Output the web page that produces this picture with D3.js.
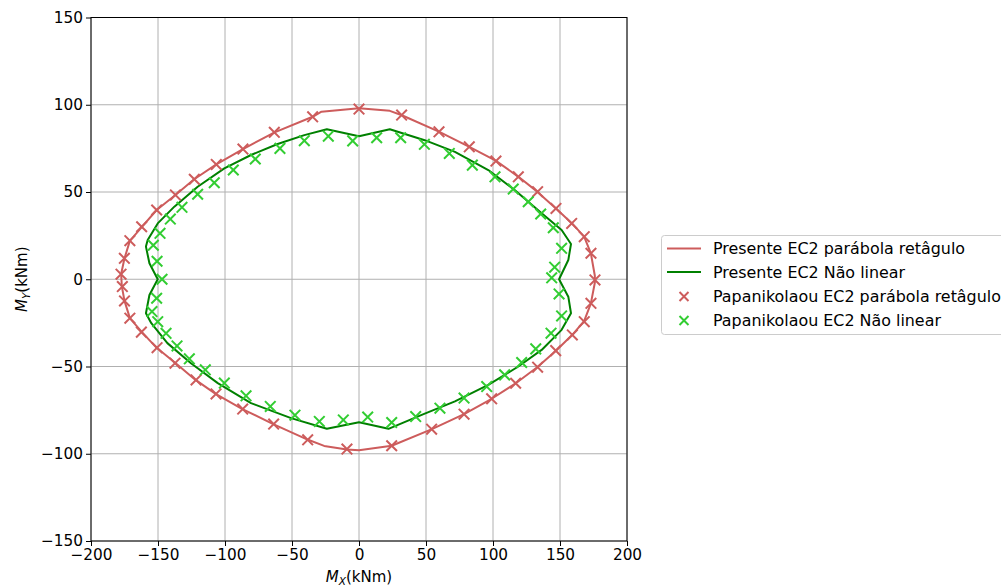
<!DOCTYPE html>
<html>
<head>
<meta charset="utf-8">
<script src="https://cdn.jsdelivr.net/npm/d3@7"></script>
<style>
  body { margin: 0; background: #fff; }
  svg { font-family: "DejaVu Sans", sans-serif; }
</style>
</head>
<body>
<svg width="1001" height="587"></svg>
<script>
// curva de interacao Mx-My
var redLine = [[0,98],[23,96.5],[32,94],[60,84.5],[82,76],[102,68],[119,58.7],[133,50.2],[147,40.6],[159,32],
  [168,24.4],[173,15],[176,2],[176,-2],[173,-14],[168,-24],[159,-32],[147,-41],[133,-50.4],[117,-59.6],
  [99,-68.5],[78.4,-77.3],[54,-86],[24.4,-95.4],[0,-98],[-9,-97.6],[-26,-95.5],[-38,-92],[-64,-83],
  [-87,-74.4],[-107,-65.7],[-122,-57.7],[-137,-48],[-151,-39.3],[-162,-30.3],[-171,-22.3],[-175,-12.4],
  [-177,-4],[-177.5,3],[-175,12],[-171,22],[-162,30],[-151,39.7],[-137,48.3],[-123,57.3],[-106.5,65.8],
  [-86.6,74.6],[-63,84.2],[-34.6,93.1],[-28,96],[0,98]];

var greenLine = [[0,82],[23,86],[49,79.7],[71.6,73],[96.5,62.6],[116.4,51],[136.3,37.8],[151.2,28.2],
  [158.2,20.2],[156.2,11],[149.3,0],[156.2,-10],[158.2,-19.5],[151.2,-29],[136.3,-40.5],[118.9,-50],
  [96.5,-60.5],[71.6,-70],[46.8,-77.7],[22,-85.7],[0,-82],[-24,-85.7],[-50.7,-79.6],[-80.6,-71],
  [-105.4,-59.5],[-125.4,-48.1],[-143,-36.6],[-155,-25.2],[-159,-19.5],[-156.4,-9],[-150.2,0],
  [-156.4,9.2],[-159,18.7],[-157.7,22.5],[-150.2,32],[-137.8,41.6],[-120.4,53],[-100.5,63.5],
  [-80.6,71.2],[-60.7,77.5],[-40.8,82.6],[-24,86],[0,82]];

var redMarks = [[0,97.5],[31.8,94.1],[59.7,84.5],[82.3,75.9],[102.2,67.7],[118.9,58.7],[133.3,50.2],
  [147,40.6],[158.7,32],[168.1,24.4],[173.1,14.9],[176.1,-0.4],[173.1,-13.8],[168.1,-24.3],[159.2,-31.9],
  [146.8,-40.9],[133.3,-50.4],[116.9,-59.6],[99,-68.5],[78.4,-77.3],[54.2,-85.9],[24.4,-95.4],
  [-9,-97.3],[-38.3,-92],[-63.7,-83],[-86.8,-74.4],[-106.7,-65.7],[-121.6,-57.7],[-137.3,-48.1],
  [-150.7,-39.2],[-162.4,-30.3],[-171,-22.3],[-175,-12.4],[-176.6,-4.2],[-177.6,2.9],[-175.1,12],
  [-171,22.1],[-162.2,30.1],[-151,39.7],[-137,48.3],[-122.9,57.3],[-106.5,65.8],[-86.6,74.6],
  [-63.2,84.2],[-34.6,93.1]];

var greenMarks = [[-4.7,79.3],[13.2,81.1],[31.1,81.1],[48.8,77.3],[67.4,72.1],[84.6,65.4],[101.5,58.7],
  [115.1,51.7],[126.3,44.4],[135.6,37.4],[145,29.5],[151.2,17.7],[146,6.9],[143.8,0.8],[149.3,-8.4],
  [151.2,-21],[143.3,-30.9],[131.9,-39.9],[121.4,-47.7],[108.7,-54.8],[95.3,-61.5],[78.4,-68.1],
  [60.4,-73.9],[42.3,-78.7],[24.4,-82.1],[6.5,-79],[-11.7,-80.6],[-29.6,-81.5],[-47.8,-77.9],
  [-66.2,-72.9],[-84.3,-66.8],[-100.5,-59.5],[-114.7,-51.9],[-126.6,-45.6],[-135.8,-38.2],[-144,-31],
  [-150.2,-24.3],[-154.5,-18.5],[-151,-10.9],[-147,0],[-150.7,10.3],[-153.5,19.5],[-148.5,26.3],
  [-140.8,34.5],[-132.1,41.2],[-120.4,48.7],[-108,55.3],[-93.8,62.6],[-77.4,68.9],[-59,75],
  [-40.8,79.4],[-22.9,82]];

var xTicks = [-200,-150,-100,-50,0,50,100,150,200];
var yTicks = [-150,-100,-50,0,50,100,150];
var legendLabels = ["Presente EC2 parábola retâgulo", "Presente EC2 Não linear",
  "Papanikolaou EC2 parábola retâgulo", "Papanikolaou EC2 Não linear"];

var cRed = "#cd5c5c", cGreen = "#008000", cLime = "#32cd32";

var svg = d3.select("svg"),
    mLeft = 91, mTop = 17.5, w = 536, h = 523.5;

var x = d3.scaleLinear().domain([-200, 200]).range([mLeft, mLeft + w]);
var y = d3.scaleLinear().domain([-150, 150]).range([mTop + h, mTop]);

// grid
var grid = svg.append("g").attr("stroke", "#b0b0b0").attr("stroke-width", 1);
grid.selectAll("line.gx").data(xTicks).enter().append("line")
  .attr("x1", d => x(d)).attr("x2", d => x(d)).attr("y1", mTop).attr("y2", mTop + h);
grid.selectAll("line.gy").data(yTicks).enter().append("line")
  .attr("y1", d => y(d)).attr("y2", d => y(d)).attr("x1", mLeft).attr("x2", mLeft + w);

svg.append("clipPath").attr("id", "clip").append("rect")
  .attr("x", mLeft).attr("y", mTop).attr("width", w).attr("height", h);

var line = d3.line().x(d => x(d[0])).y(d => y(d[1]));
var plot = svg.append("g").attr("clip-path", "url(#clip)");

plot.append("path").datum(redLine).attr("d", line)
  .attr("fill", "none").attr("stroke", cRed).attr("stroke-width", 2).attr("stroke-linejoin", "round");
plot.append("path").datum(greenLine).attr("d", line)
  .attr("fill", "none").attr("stroke", cGreen).attr("stroke-width", 2).attr("stroke-linejoin", "round");

function cross(s) {
  return "M" + (-s) + "," + (-s) + "L" + s + "," + s + "M" + (-s) + "," + s + "L" + s + "," + (-s);
}

plot.selectAll("path.rm").data(redMarks).enter().append("path")
  .attr("d", cross(5.3)).attr("transform", d => "translate(" + x(d[0]) + "," + y(d[1]) + ")")
  .attr("stroke", cRed).attr("stroke-width", 2).attr("fill", "none");
plot.selectAll("path.gm").data(greenMarks).enter().append("path")
  .attr("d", cross(5.3)).attr("transform", d => "translate(" + x(d[0]) + "," + y(d[1]) + ")")
  .attr("stroke", cLime).attr("stroke-width", 2).attr("fill", "none");

// axes
var fmt = d => String(d).replace("-", "\u2212");
var xAxis = svg.append("g").attr("transform", "translate(0," + (mTop + h) + ")")
  .call(d3.axisBottom(x).tickValues(xTicks).tickSize(5).tickPadding(3).tickFormat(fmt));
var yAxis = svg.append("g").attr("transform", "translate(" + mLeft + ",0)")
  .call(d3.axisLeft(y).tickValues(yTicks).tickSize(5).tickPadding(3).tickFormat(fmt));
[xAxis, yAxis].forEach(function(a) {
  a.selectAll("text").attr("font-size", 15.3).attr("fill", "#000").attr("font-family", "DejaVu Sans");
  a.selectAll("line").attr("stroke", "#000");
  a.select(".domain").remove();
});

svg.append("rect").attr("x", mLeft).attr("y", mTop).attr("width", w).attr("height", h)
  .attr("fill", "none").attr("stroke", "#000").attr("stroke-width", 1);

// axis labels
var xl = svg.append("text").attr("x", x(0)).attr("y", 582).attr("text-anchor", "middle").attr("font-size", 15);
xl.append("tspan").attr("font-style", "italic").text("M");
xl.append("tspan").attr("font-style", "italic").attr("font-size", 10.5).attr("dy", 2.5).text("X");
xl.append("tspan").attr("dy", -2.5).text("(kNm)");

var yl = svg.append("text").attr("transform", "translate(27," + y(0) + ") rotate(-90)")
  .attr("text-anchor", "middle").attr("font-size", 15);
yl.append("tspan").attr("font-style", "italic").text("M");
yl.append("tspan").attr("font-style", "italic").attr("font-size", 10.5).attr("dy", 2.5).text("Y");
yl.append("tspan").attr("dy", -2.5).text("(kNm)");

// legend
var lg = svg.append("g");
lg.append("rect").attr("x", 661.5).attr("y", 235.5).attr("width", 360).attr("height", 99).attr("rx", 3)
  .attr("fill", "#fff").attr("stroke", "#cccccc").attr("stroke-width", 1);
var rowsY = [248.5, 272, 296.5, 320.5];
var kinds = [["line", cRed], ["line", cGreen], ["mark", cRed], ["mark", cLime]];
legendLabels.forEach(function(t, i) {
  var yy = rowsY[i];
  if (kinds[i][0] == "line") {
    lg.append("line").attr("x1", 667).attr("x2", 701).attr("y1", yy).attr("y2", yy)
      .attr("stroke", kinds[i][1]).attr("stroke-width", 2);
  } else {
    lg.append("path").attr("d", cross(4.5)).attr("transform", "translate(684," + yy + ")")
      .attr("stroke", kinds[i][1]).attr("stroke-width", 2).attr("fill", "none");
  }
  lg.append("text").attr("x", 713).attr("y", yy + 5.5).attr("font-size", 15.9).text(t);
});
</script>
</body>
</html>
